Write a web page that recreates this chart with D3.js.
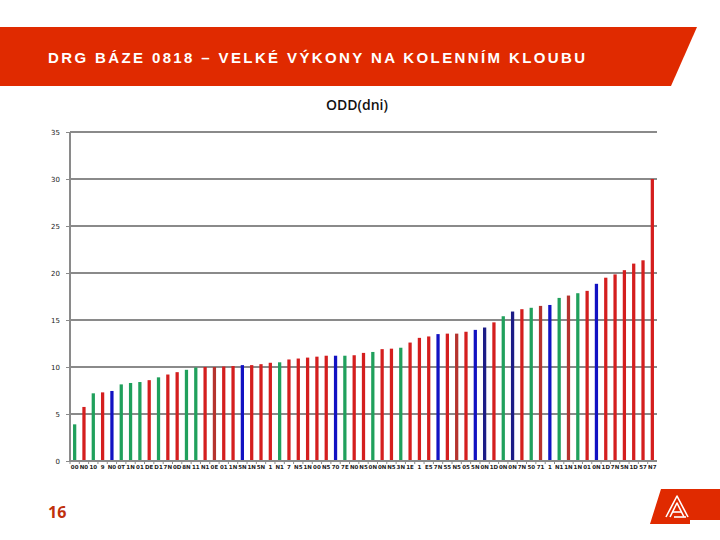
<!DOCTYPE html>
<html>
<head>
<meta charset="utf-8">
<script src="https://cdn.jsdelivr.net/npm/d3@7/dist/d3.min.js"></script>
<style>
  html, body { margin: 0; padding: 0; background: #fff; }
  svg { display: block; }
</style>
</head>
<body>
<svg id="chart" width="720" height="540"></svg>
<script>
// ---- data ----
const titleText = "DRG BÁZE 0818 – VELKÉ VÝKONY NA KOLENNÍM KLOUBU";
const chartTitle = "ODD(dni)";
const pageNumber = "16";
const categories = ["00","N0","10","9","N0","0T","1N","01","DE","D1","7N","0D","8N","11","N1","0E",
  "01","1N","5N","1N","5N","1","N1","7","N5","1N","00","N5","70","7E","N0","N5","0N","0N","N5",
  "3N","1E","1","E5","7N","55","N5","05","5N","0N","1D","0N","0N","7N","50","71","1","N1","1N",
  "1N","01","0N","1D","7N","5N","1D","57","N7"];
const values = [3.9,5.75,7.2,7.3,7.45,8.15,8.3,8.4,8.6,8.9,9.2,9.45,9.7,9.95,10.0,10.0,
  10.05,10.1,10.2,10.2,10.3,10.45,10.5,10.8,10.9,11.0,11.1,11.2,11.2,11.2,11.25,11.5,11.6,11.9,
  11.95,12.05,12.6,13.1,13.25,13.5,13.55,13.55,13.75,13.95,14.2,14.75,15.4,15.9,16.15,16.3,16.5,
  16.6,17.35,17.6,17.85,18.1,18.85,19.5,19.85,20.3,21.0,21.35,30.0];
const groups = ["g","r","g","r","b","g","g","g","r","g","r","r","g","g","r","dr",
  "r","r","b","r","r","r","g","r","r","r","r","r","b","g","r","r","g","r","r","g","r","r","r",
  "b","r","dr","r","b","nb","r","g","nb","r","g","dr","b","g","dr","g","r","b","r","r","r","r","r","r"];
const yTicks = [0,5,10,15,20,25,30,35];
const groupKeys = ["r","dr","g","b","nb"];
const groupColors = ["#d41e1e","#b5332e","#20a05c","#1212c2","#1c1c86"];

// ---- layout ----
const svg = d3.select("#chart");
const M = { left: 70, right: 657, top: 132, bottom: 461 };

// header banner
svg.append("path")
  .attr("d", "M0,27 L697,27 L671,86 L0,86 Z")
  .attr("fill", "#e02a00");
svg.append("text")
  .attr("x", 48).attr("y", 63)
  .attr("fill", "#ffffff")
  .attr("font-family", "'Liberation Sans Narrow','Arial Narrow','Liberation Sans',sans-serif")
  .attr("font-weight", "bold")
  .attr("font-size", 15)
  .attr("textLength", 537)
  .attr("lengthAdjust", "spacing")
  .text(titleText);

// chart title
svg.append("text")
  .attr("x", 357).attr("y", 110)
  .attr("text-anchor", "middle")
  .attr("font-family", "'Open Sans','Liberation Sans',sans-serif")
  .attr("font-weight", 600)
  .attr("font-size", 14)
  .attr("fill", "#111")
  .text(chartTitle);

// scales
const x = d3.scaleBand().domain(categories.map((c, i) => i)).range([M.left, M.right]).paddingInner(0.65).paddingOuter(0.325);
const y = d3.scaleLinear().domain([0, 35]).range([M.bottom, M.top]);
const color = d3.scaleOrdinal().domain(groupKeys).range(groupColors);

// gridlines
svg.append("g").selectAll("line").data(yTicks.filter(t => t > 0)).join("line")
  .attr("x1", M.left).attr("x2", M.right)
  .attr("y1", d => y(d)).attr("y2", d => y(d))
  .attr("stroke", "#8a8a8a").attr("stroke-width", 2);

// y axis
const yAxis = d3.axisLeft(y).tickValues(yTicks).tickSize(4).tickPadding(6);
const gy = svg.append("g").attr("transform", `translate(${M.left},0)`).call(yAxis);
gy.select(".domain").attr("stroke", "#8a8a8a").attr("stroke-width", 2).attr("d", `M0,${M.top}V${M.bottom}`);
gy.selectAll(".tick line").attr("stroke", "#8a8a8a").attr("stroke-width", 1);
gy.selectAll(".tick text").attr("font-family", "'DejaVu Sans',sans-serif").attr("font-size", 7).attr("fill", "#222");

// bars
svg.append("g").selectAll("rect").data(values).join("rect")
  .attr("x", (d, i) => x(i))
  .attr("width", x.bandwidth())
  .attr("y", d => y(d))
  .attr("height", d => y(0) - y(d))
  .attr("fill", (d, i) => color(groups[i]));

// x axis
const xAxis = d3.axisBottom(x).tickFormat(i => categories[i]).tickSize(0).tickPadding(4);
const gx = svg.append("g").attr("transform", `translate(0,${M.bottom})`).call(xAxis);
gx.select(".domain").attr("stroke", "#8a8a8a").attr("stroke-width", 2).attr("d", `M${M.left},0H${M.right}`);
gx.selectAll(".tick text").attr("font-family", "'DejaVu Sans',sans-serif").attr("font-size", 5.5)
  .attr("font-weight", "bold").attr("fill", "#222");
// small ticks between categories
svg.append("g").selectAll("line").data(categories.map((c, i) => i)).join("line")
  .attr("x1", i => x(i) - x.step() * 0.325).attr("x2", i => x(i) - x.step() * 0.325)
  .attr("y1", M.bottom).attr("y2", M.bottom + 3)
  .attr("stroke", "#8a8a8a").attr("stroke-width", 1);

// page number
svg.append("text")
  .attr("x", 48).attr("y", 518)
  .attr("font-family", "'Open Sans','Liberation Sans',sans-serif")
  .attr("font-weight", "bold")
  .attr("font-size", 16)
  .attr("fill", "#c0300c")
  .text(pageNumber);

// logo
svg.append("path")
  .attr("d", "M661,489 L720,489 L720,520 L690,520 L690,524 L650,524 Z")
  .attr("fill", "#e02a00");
const logo = svg.append("g").attr("fill", "none").attr("stroke", "#fff").attr("stroke-width", 1.6).attr("stroke-linejoin", "round");
logo.append("path").attr("d", "M666,517 L677,496 L688,517");
logo.append("path").attr("d", "M670,517 L677,503 L684,517");
logo.append("path").attr("d", "M673,512 L682,512");
logo.append("path").attr("d", "M674,517 L686,517");
</script>
</body>
</html>
